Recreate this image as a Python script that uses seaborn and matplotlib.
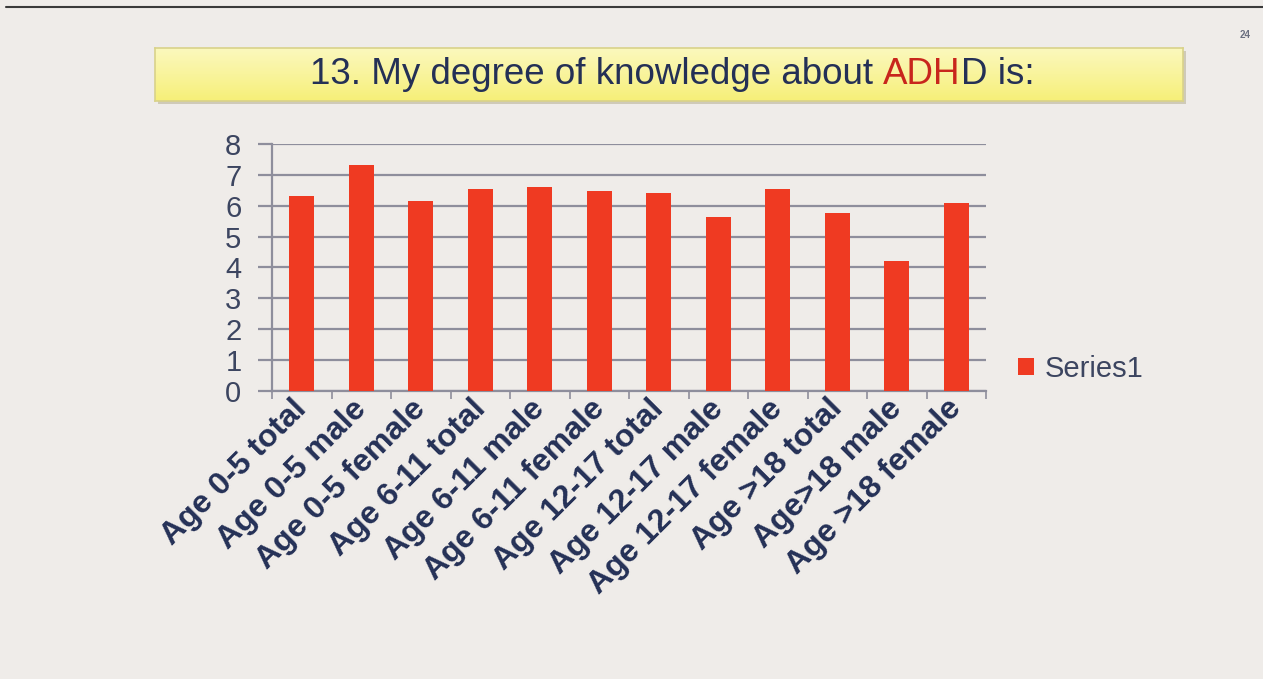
import numpy as np
import matplotlib
matplotlib.use("Agg")
import matplotlib.pyplot as plt
import matplotlib.transforms as mtrans
import seaborn as sns
from matplotlib.patches import Patch, Rectangle
from matplotlib.lines import Line2D

# data
categories = ["Age 0-5 total", "Age 0-5 male", "Age 0-5 female",
              "Age 6-11 total", "Age 6-11 male", "Age 6-11 female",
              "Age 12-17 total", "Age 12-17 male", "Age 12-17 female",
              "Age >18 total", "Age>18 male", "Age >18 female"]
values = [6.33, 7.32, 6.17, 6.55, 6.60, 6.47,
          6.40, 5.62, 6.54, 5.77, 4.21, 6.08]
series_name = "Series1"
y_ticks = [0, 1, 2, 3, 4, 5, 6, 7, 8]

bg = "#efece9"
red = "#ef3a22"
navy = "#243056"
grid_c = "#8e8e9c"

sns.set_theme(style="white")
plt.rcParams["font.family"] = ["Liberation Sans", "DejaVu Sans"]

W, H = 1263, 679
fig = plt.figure(figsize=(W / 100, H / 100), dpi=100)
fig.patch.set_facecolor(bg)

# thin dark border line at top of the screenshot
fig.add_artist(Line2D([6 / W, 1], [1 - 7 / H, 1 - 7 / H], color="#3a3a3a", lw=1.5))

# yellow title banner with gradient
bx0, by0, bx1, by1 = 155, 48, 1183, 101
shadow = Rectangle((bx0 / W + 0.002, 1 - (by1 + 3) / H), (bx1 - bx0) / W, (by1 - by0) / H,
                   transform=fig.transFigure, facecolor="#cfcab8", edgecolor="none", zorder=0)
fig.add_artist(shadow)
bax = fig.add_axes([bx0 / W, 1 - by1 / H, (bx1 - bx0) / W, (by1 - by0) / H])
grad = np.linspace(0, 1, 64).reshape(-1, 1)
cmap = matplotlib.colors.LinearSegmentedColormap.from_list(
    "banner", ["#fbf8bd", "#f9f49c", "#f6ef78"])
bax.imshow(grad, aspect="auto", cmap=cmap, extent=[0, 1, 0, 1], origin="upper")
bax.set_xticks([])
bax.set_yticks([])
for s in bax.spines.values():
    s.set_color("#d9d28a")
    s.set_linewidth(1.2)

# title text in three colored pieces
parts = [("13. My degree of knowledge about ", navy), ("ADH", "#c8261c"), ("D is:", navy)]
fig.canvas.draw()
renderer = fig.canvas.get_renderer()
texts = []
for s, c in parts:
    t = fig.text(0, 1 - 75 / H, s, color=c, fontsize=26.5, va="center", ha="left")
    texts.append(t)
widths = [t.get_window_extent(renderer).width for t in texts]
x = (672 - sum(widths) / 2)
for t, w in zip(texts, widths):
    t.set_x(x / W)
    x += w

# main bar chart
ax = fig.add_axes([272 / W, 1 - 391 / H, (986 - 272) / W, (391 - 144) / H])
ax.set_facecolor(bg)
sns.barplot(x=categories, y=values, color=red, width=0.42, saturation=1,
            linewidth=0, ax=ax, zorder=3)
ax.set_ylim(0, 8)
ax.set_xlim(-0.5, len(categories) - 0.5)
ax.set_yticks(y_ticks)
ax.set_yticklabels([str(v) for v in y_ticks], fontsize=21, color="#3c4560")
ax.yaxis.grid(True, color=grid_c, lw=1.6, zorder=0)
ax.set_axisbelow(True)
for side in ["top", "right"]:
    ax.spines[side].set_visible(False)
for side in ["left", "bottom"]:
    ax.spines[side].set_color(grid_c)
    ax.spines[side].set_linewidth(1.6)
ax.tick_params(axis="y", which="major", direction="out", length=10, width=1.6,
               color=grid_c, pad=12, left=True)

# category labels at bar centers, boundary tick marks
ax.set_xticks(range(len(categories)))
ax.set_xticklabels(categories, rotation=45, ha="right", rotation_mode="anchor",
                   fontsize=23, fontweight="bold", color=navy)
ax.tick_params(axis="x", which="major", length=0, pad=2)
ax.set_xticks(np.arange(-0.5, len(categories)), minor=True)
ax.tick_params(axis="x", which="minor", direction="out", length=6, width=1.2,
               color=grid_c, bottom=True)
shift = mtrans.ScaledTranslation(-10 / 100, 0, fig.dpi_scale_trans)
for lbl in ax.get_xticklabels():
    lbl.set_transform(lbl.get_transform() + shift)
ax.set_xlabel("")
ax.set_ylabel("")

# legend
handles = [Patch(facecolor=red, edgecolor="none", label=series_name)]
fig.legend(handles=handles, loc="center left", bbox_to_anchor=(992 / W, 1 - 369 / H),
           frameon=False, fontsize=21, handlelength=0.55, handleheight=0.55,
           handletextpad=0.35, labelcolor="#3c4560")

# page number
fig.text(1245 / W, 1 - 35 / H, "24", fontsize=7, fontweight="bold", color="#6a6f80",
         ha="center", va="center")

fig.savefig("out.png", dpi=100, facecolor=bg)
